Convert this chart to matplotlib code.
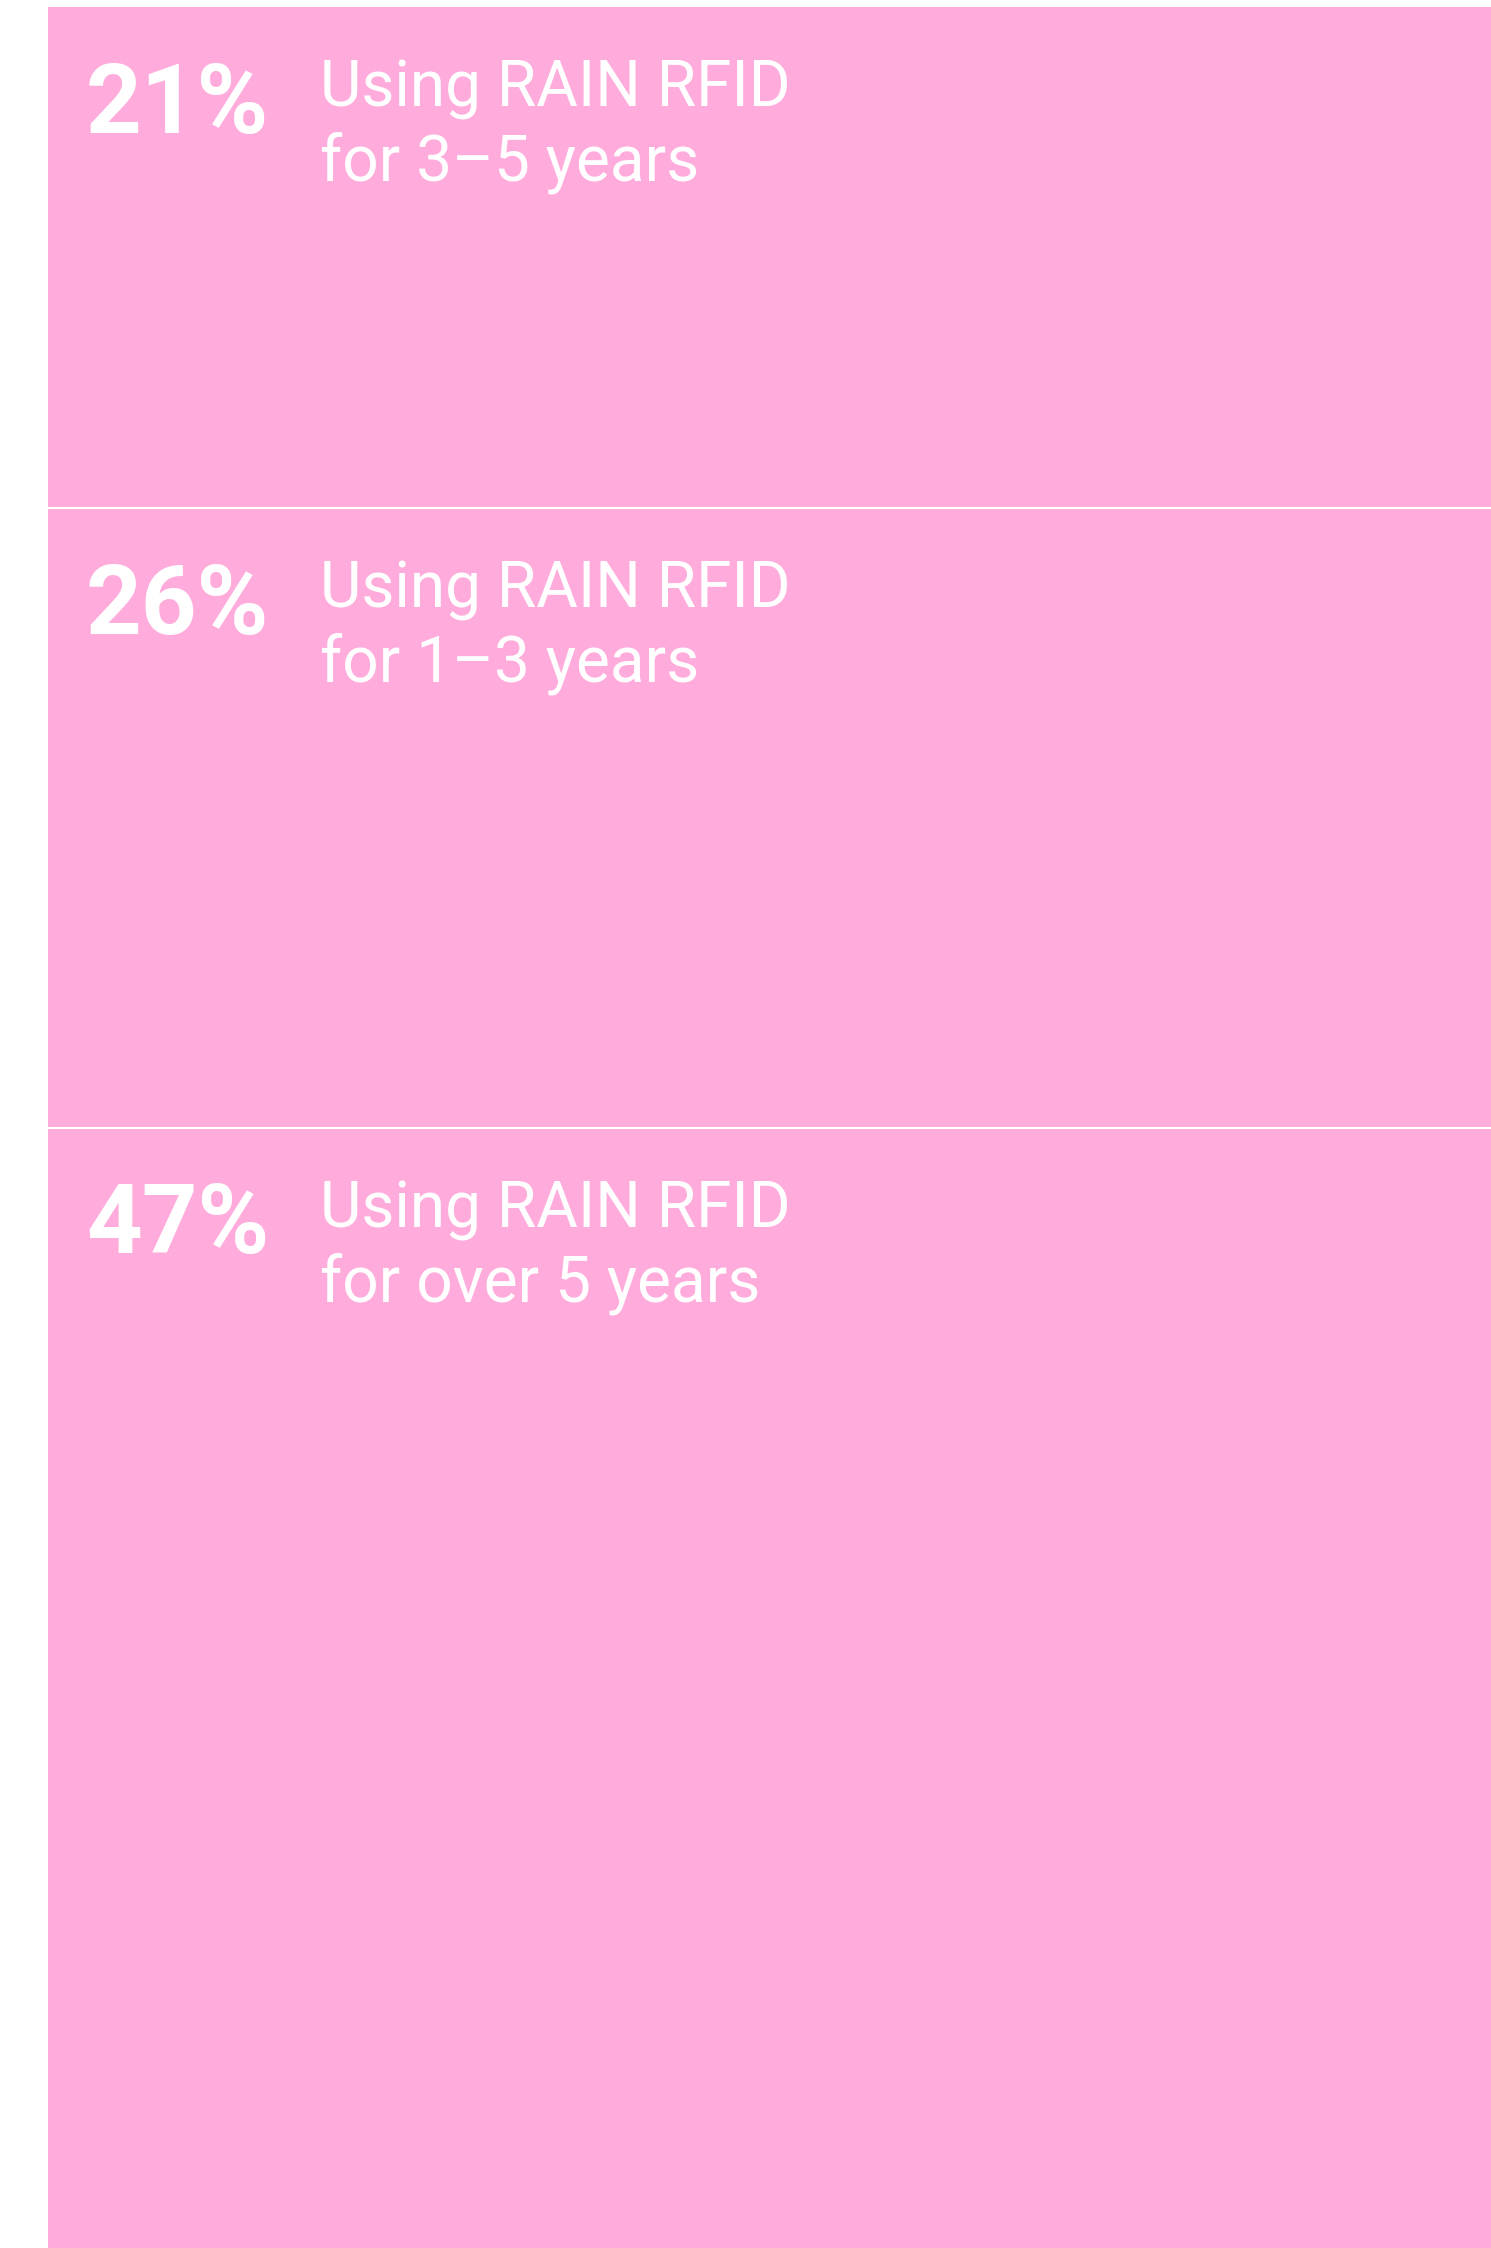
import matplotlib.pyplot as plt
import numpy as np

# share of users by how long they have used RAIN RFID
shares = [21, 26, 47]
pct_labels = ["21%", "26%", "47%"]
desc_labels = [
    "Using RAIN RFID\nfor 3\u20135 years",
    "Using RAIN RFID\nfor 1\u20133 years",
    "Using RAIN RFID\nfor over 5 years",
]

pink = "#FFACDC"

W, H = 1491, 2248
fig = plt.figure(figsize=(W / 100, H / 100), dpi=100)
ax = fig.add_axes([48 / W, 0, 1 - 48 / W, (H - 7) / H])

tops = np.concatenate([[0], np.cumsum(shares)[:-1]])
total = sum(shares)

ax.bar(0, shares, bottom=tops, width=1, color=pink, linewidth=0)
for b in tops[1:]:
    ax.axhline(b, color="white", lw=1.5)

ax.set_xlim(-0.5, 0.5)
ax.set_ylim(total, 0)
ax.axis("off")

for top, pct, desc in zip(tops, pct_labels, desc_labels):
    ax.annotate(pct, xy=(-0.5, top), xytext=(38, -126), textcoords="offset pixels",
                ha="left", va="baseline", color="white", fontsize=70,
                fontfamily="Roboto", fontweight="bold")
    for i, line in enumerate(desc.split("\n")):
        ax.annotate(line, xy=(-0.5, top), xytext=(272, -100 - 74 * i),
                    textcoords="offset pixels", ha="left", va="baseline",
                    color="white", fontsize=46, fontfamily="Roboto")

fig.savefig("out.png", dpi=100)
